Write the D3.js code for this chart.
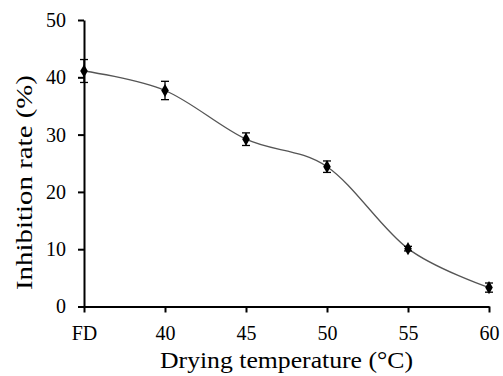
<!DOCTYPE html>
<html><head><meta charset="utf-8">
<script src="https://cdn.jsdelivr.net/npm/d3@7"></script>
<style>body{margin:0;background:#fff}svg{display:block}</style>
</head><body>
<script>
const categories = ["FD","40","45","50","55","60"];
const values = [41.1, 37.7, 29.2, 24.4, 10.1, 3.3];
const errors = [2.0, 1.6, 1.1, 1.0, 0.4, 0.8];
const yTicks = [0,10,20,30,40,50];

const W = 503, H = 376;
const svg = d3.select("body").append("svg").attr("width",W).attr("height",H);
const font = "'Liberation Serif','Times New Roman',serif";

const x = d3.scalePoint().domain(categories).range([84,489]);
const y = d3.scaleLinear().domain([0,50]).range([306.5,20]);

const xAxis = svg.append("g").attr("transform","translate(0,306.5)")
  .call(d3.axisBottom(x).tickSize(6).tickPadding(13).tickSizeOuter(0));
const yAxis = svg.append("g").attr("transform","translate(84,0)")
  .call(d3.axisLeft(y).tickValues(yTicks).tickSize(6).tickPadding(12).tickSizeOuter(0));
[xAxis,yAxis].forEach(g=>{
  g.select(".domain").attr("stroke","#000").attr("stroke-width",2);
  g.selectAll(".tick line").attr("stroke","#000").attr("stroke-width",2);
  g.selectAll(".tick text").attr("fill","#000").style("font-family",font).style("font-size","20px");
});

const line = d3.line().x((d,i)=>x(categories[i])).y(d=>y(d)).curve(d3.curveCardinal.tension(0));
svg.append("path").datum(values).attr("d",line).attr("fill","none")
  .attr("stroke","#555").attr("stroke-width",1.3);

const eb = svg.append("g").attr("stroke","#000").attr("stroke-width",1.3);
values.forEach((v,i)=>{
  const cx = x(categories[i]);
  eb.append("line").attr("x1",cx).attr("x2",cx).attr("y1",y(v+errors[i])).attr("y2",y(v-errors[i]));
  eb.append("line").attr("x1",cx-4).attr("x2",cx+4).attr("y1",y(v+errors[i])).attr("y2",y(v+errors[i]));
  eb.append("line").attr("x1",cx-4).attr("x2",cx+4).attr("y1",y(v-errors[i])).attr("y2",y(v-errors[i]));
});

svg.append("g").selectAll("path").data(values).join("path")
  .attr("transform",(d,i)=>`translate(${x(categories[i])},${y(d)})`)
  .attr("d",d3.symbol().type(d3.symbolDiamond).size(50)).attr("fill","#000");

svg.append("text").attr("x",286.5).attr("y",368).attr("text-anchor","middle")
  .attr("textLength",253).attr("lengthAdjust","spacingAndGlyphs")
  .style("font-family",font).style("font-size","23px").attr("fill","#000")
  .text("Drying temperature (°C)");
svg.append("text").attr("transform","translate(32,182.5) rotate(-90)").attr("text-anchor","middle")
  .attr("textLength",215).attr("lengthAdjust","spacingAndGlyphs")
  .style("font-family",font).style("font-size","23px").attr("fill","#000")
  .text("Inhibition rate (%)");
</script>
</body></html>
